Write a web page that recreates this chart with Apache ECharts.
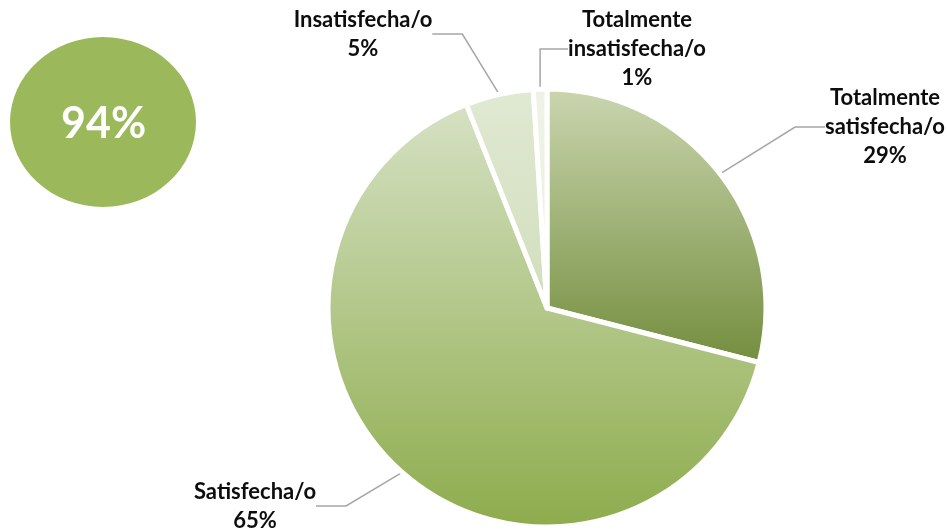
<!DOCTYPE html>
<html>
<head>
<meta charset="utf-8">
<script src="https://cdn.jsdelivr.net/npm/echarts@6/dist/echarts.min.js"></script>
<style>
  html, body { margin: 0; padding: 0; background: #fff; }
  #chart { width: 947px; height: 531px; }
</style>
</head>
<body>
<div id="chart"></div>
<script>
// datos de la gráfica
const categories = ["Totalmente\nsatisfecha/o", "Satisfecha/o", "Insatisfecha/o", "Totalmente\ninsatisfecha/o"];
const values = [29, 65, 5, 1];
// colores degradados (arriba -> abajo) por sector
const topColors = ["#cbd6b0", "#d6e1c4", "#e0e9d2", "#eff3e7"];
const bottomColors = ["#738d3d", "#8dac4c", "#d2ddbc", "#e9efdd"];
// posiciones de las etiquetas (centro del texto)
const labelPos = [[885, 127], [255, 506], [363, 34], [637, 49]];

const chart = echarts.init(document.getElementById("chart"));

const total = values[0] + values[1]; // satisfechas

chart.setOption({
  animation: false,
  textStyle: { fontFamily: "Lato" },
  graphic: [
    {
      type: "circle",
      shape: { cx: 103, cy: 122, r: 93 },
      scaleY: 85 / 93,
      originY: 122,
      style: { fill: "#9bb95b" }
    },
    {
      type: "text",
      left: 61,
      top: 103,
      style: {
        text: total + "%",
        fill: "#fff",
        font: "bold 43px Lato",
        textAlign: "left"
      }
    }
  ],
  series: [
    {
      type: "pie",
      center: [547, 308],
      radius: 219,
      startAngle: 90,
      clockwise: true,
      itemStyle: { borderColor: "#fff", borderWidth: 5 },
      label: {
        show: true,
        formatter: p => p.name + "\n" + p.value + "%",
        fontSize: 22,
        fontWeight: "bold",
        lineHeight: 29,
        color: "#0d0d0d",
        fontFamily: "Lato"
      },
      labelLine: {
        show: true,
        lineStyle: { color: "#a6a6a6", width: 1.5 }
      },
      labelLayout: params => ({
        x: labelPos[params.dataIndex][0],
        y: labelPos[params.dataIndex][1],
        align: "center",
        verticalAlign: "middle"
      }),
      data: categories.map((c, i) => ({
        name: c,
        value: values[i],
        itemStyle: {
          color: new echarts.graphic.LinearGradient(0, 0, 0, 1, [
            { offset: 0, color: topColors[i] },
            { offset: 1, color: bottomColors[i] }
          ])
        }
      }))
    }
  ]
});
</script>
</body>
</html>
